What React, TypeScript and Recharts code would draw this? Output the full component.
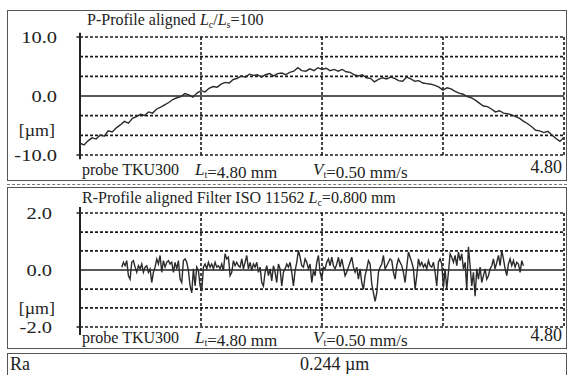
import { CartesianGrid, Line, LineChart, ReferenceLine, XAxis, YAxis } from 'recharts';

const FONT = 'Liberation Serif, Times New Roman, serif';
const INK = '#222';
const FRAME = '#555';

// P-profile, sampled every 0.04 mm from 0 to 4.80 mm, values in µm
const P_STEP = 0.04;
const pProfile = [
  -8.0, -8.3, -7.6, -7.1, -7.3, -6.6, -6.8, -5.9, -6.1, -5.4,
  -4.9, -4.3, -4.6, -3.8, -3.5, -3.1, -3.3, -2.7, -2.9, -2.2,
  -1.9, -1.5, -1.1, -0.6, -0.3, -0.1, 0.4, 0.2, -0.2, 0.5,
  0.9, 0.7, 1.3, 1.6, 1.5, 2.0, 2.3, 2.2, 2.8, 3.0,
  3.4, 3.2, 3.7, 3.5, 3.6, 3.2, 3.6, 3.8, 3.4, 3.8,
  3.9, 3.6, 4.0, 4.2, 4.8, 4.3, 4.2, 4.6, 4.3, 4.8,
  4.5, 4.7, 4.3, 4.5, 4.2, 4.5, 4.1, 4.0, 3.6, 3.4,
  3.6, 3.1, 3.0, 2.4, 2.8, 3.1, 2.9, 3.2, 3.0, 2.6,
  2.5, 3.2, 2.9, 2.5, 2.6, 2.2, 2.1, 2.0, 1.8, 1.5,
  1.0, 1.4, 1.2, 0.8, 0.5, 0.3, -0.1, -0.3, -0.7, -1.2,
  -1.7, -1.8, -2.2, -2.7, -2.5, -2.9, -3.0, -3.2, -3.5, -3.8,
  -4.3, -4.7, -5.2, -5.8, -5.9, -6.2, -6.0, -6.6, -7.2, -7.7,
  -7.0,
];

// R-profile, sampled every ~0.0165 mm starting at 0.414 mm, values in µm
const R_START = 0.414;
const R_STEP = 0.01653;
const rProfile = [
  0.10, 0.27, 0.15, 0.33, -0.20, -0.32, 0.27, 0.33, 0.10, -0.08,
  0.15, 0.04, 0.21, -0.08, 0.10, 0.15, -0.08, 0.04, -0.44, -0.08,
  0.10, 0.39, 0.21, 0.51, -0.08, 0.33, 0.10, 0.27, 0.33, 0.21,
  0.27, -0.08, 0.27, 0.04, 0.33, -0.32, -0.44, 0.33, 0.39, 0.27,
  -0.02, -0.56, -0.80, 0.04, -0.56, 0.10, -0.02, -0.56, -0.74, 0.10,
  0.21, 0.04, 0.27, 0.10, 0.21, 0.04, 0.27, 0.10, 0.15, 0.04,
  0.21, -0.02, 0.57, 0.39, 0.45, -0.20, -0.08, 0.33, 0.15, 0.27,
  0.15, 0.10, 0.39, 0.04, 0.27,
  0.51, 0.04, 0.27, -0.02, 0.21, 0.10, 0.27, -0.08, 0.10, -0.44,
  -0.56, -0.08, 0.15, -0.20, 0.04, -0.38, 0.15, -0.08, -0.44, 0.21,
  0.04, -0.56, -0.08, 0.04, 0.21, 0.10, 0.27, -0.08, -0.56, -0.02,
  0.27, 0.69, 0.45, 0.15, 0.10, 0.39, 0.27, 0.04, 0.21, -0.44,
  -0.02, -0.20, 0.27, 0.51, -0.08, -0.32, 0.10, 0.04, 0.27, 0.39,
  0.15, 0.45, 0.15, 0.04, 0.21, 0.45, 0.10, 0.39, 0.10, -0.20,
  -0.08, 0.10, 0.27, 0.45, 0.10, -0.08, 0.10, -0.32, 0.04, -0.44,
  -0.68, -0.20, 0.04, 0.33, 0.21, -0.50, -0.80, -1.10, -0.80, -0.08,
  0.10, 0.21, 0.51,
  0.04, 0.15, 0.27, 0.39, 0.33, -0.08, -0.32, 0.15, 0.39, 0.27,
  0.15, -0.08, -0.44, 0.10, 0.63, 0.45, 0.27, 0.04, -0.68, -0.20,
  0.39, 0.15, 0.27, 0.10, 0.21, 0.04, 0.33, 0.15, 0.10, 0.27,
  -0.08, -0.56, 0.27, 0.39, 0.21, -0.62, 0.04, -0.68, -0.08, 0.57,
  0.45, 0.27, 0.51, 0.15, 0.63, 0.33, 0.57, 0.04, 0.27, -0.68,
  0.81, 0.15, -0.56, -0.08, -0.92, 0.04, -0.32, 0.10, -0.44, -0.20,
  0.04, -0.32, -0.20, 0.04, 0.15, 0.39, 0.04, 0.27, 0.51, 0.15,
  0.69, 0.39, 0.04, -0.20, 0.21, 0.39, 0.15, 0.33, 0.10, 0.27,
  0.21, -0.08, 0.33, 0.15,
];

const xGrid = [1.2, 2.4, 3.6, 4.8];
const pGridY = [-10, -6.67, -3.33, 3.33, 6.67, 10];
const rGridY = [-2, -1.33, -0.67, 0.67, 1.33, 2];
const pTicks = [10, 0, -10];
const rTicks = [2, 0, -2];

const pData = pProfile.map((v, i) => ({ x: i * P_STEP, v }));
const rData = rProfile.map((v, i) => ({ x: R_START + i * R_STEP, v }));

function StretchTick(props: any) {
  const { x, y, payload } = props;
  return (
    <text
      transform={`translate(${x},${y}) scale(1.28,1)`}
      textAnchor="end"
      dy="0.36em"
      fontSize={16}
      style={{ fontFamily: FONT }}
      fill={INK}
    >
      {Number(payload.value).toFixed(1)}
    </text>
  );
}

interface ChartProps {
  data: { x: number; v: number }[];
  top: number;
  height: number;
  margin: { top: number; right: number; bottom: number; left: number };
  yDomain: [number, number];
  yTicks: number[];
  gridY: number[];
  tickGap: number;
  axisLo: number;
  axisHi: number;
}

function ProfileChart({ data, top, height, margin, yDomain, yTicks, gridY, tickGap, axisLo, axisHi }: ChartProps) {
  const [lo, hi] = yDomain;
  return (
    <div style={{ position: 'absolute', left: 0, top, width: 569, height }}>
      <LineChart width={569} height={height} data={data} margin={margin}>
        <CartesianGrid
          horizontalValues={gridY}
          verticalValues={xGrid}
          stroke="#1a1a1a"
          strokeDasharray="3 2"
          strokeWidth={1.6}
        />
        <XAxis type="number" dataKey="x" domain={[0, 4.8]} hide allowDataOverflow />
        <YAxis
          type="number"
          domain={yDomain}
          ticks={yTicks}
          interval={0}
          width={79}
          axisLine={false}
          tickLine={false}
          tickSize={0}
          tickMargin={tickGap}
          tick={<StretchTick />}
          allowDataOverflow
        />
        <ReferenceLine y={0} stroke={INK} strokeWidth={1.5} />
        <ReferenceLine
          segment={[{ x: 0, y: axisLo }, { x: 0, y: axisHi }]}
          ifOverflow="visible"
          stroke={INK}
          strokeWidth={2}
        />
        <ReferenceLine
          segment={[{ x: -0.035, y: hi }, { x: 0, y: hi }]}
          ifOverflow="visible"
          stroke={INK}
          strokeWidth={1.5}
        />
        <ReferenceLine
          segment={[{ x: -0.035, y: lo }, { x: 0, y: lo }]}
          ifOverflow="visible"
          stroke={INK}
          strokeWidth={1.5}
        />
        <Line
          dataKey="v"
          type="linear"
          dot={false}
          stroke="#2b2b2b"
          strokeWidth={1.4}
          isAnimationActive={false}
        />
      </LineChart>
    </div>
  );
}

function Sub({ main, sub }: { main: string; sub: string }) {
  return (
    <>
      <tspan fontStyle="italic">{main}</tspan>
      <tspan fontSize={10} dy={3}>{sub}</tspan>
      <tspan dy={-3}>{''}</tspan>
    </>
  );
}

function InfoRow({ y, endY }: { y: number; endY: number }) {
  return (
    <>
      <text x={82} y={y} fontSize={16}>probe TKU300</text>
      <text x={195} y={y} fontSize={17}>
        <Sub main="L" sub="t" />
        {'=4.80 mm'}
      </text>
      <text x={313} y={y} fontSize={17}>
        <Sub main="V" sub="t" />
        {'=0.50 mm/s'}
      </text>
      <text x={562} y={endY} fontSize={18} textAnchor="end">4.80</text>
    </>
  );
}

function Box({ top, height }: { top: number; height: number }) {
  return (
    <div
      style={{
        position: 'absolute',
        left: 7,
        top,
        width: 560,
        height,
        border: `1.5px solid ${FRAME}`,
        boxSizing: 'border-box',
      }}
    />
  );
}

export default function App() {
  return (
    <div
      style={{
        position: 'absolute',
        left: 0,
        top: 0,
        width: 569,
        height: 375,
        overflow: 'hidden',
        background: '#fff',
        fontFamily: FONT,
      }}
    >
      <Box top={10} height={171} />
      <div
        style={{
          position: 'absolute',
          left: 7,
          top: 184,
          width: 560,
          borderTop: '1px dashed #777',
        }}
      />
      <Box top={187} height={162} />
      <Box top={353} height={40} />

      <ProfileChart
        data={pData}
        top={0}
        height={190}
        margin={{ top: 37, right: 5, bottom: 35, left: 1 }}
        yDomain={[-10, 10]}
        yTicks={pTicks}
        gridY={pGridY}
        tickGap={23}
        axisLo={-10.7}
        axisHi={10.7}
      />
      <ProfileChart
        data={rData}
        top={187}
        height={162}
        margin={{ top: 26, right: 5, bottom: 22, left: 1 }}
        yDomain={[-2, 2]}
        yTicks={rTicks}
        gridY={rGridY}
        tickGap={28}
        axisLo={-2.28}
        axisHi={2.21}
      />

      <svg
        width={569}
        height={375}
        style={{ position: 'absolute', left: 0, top: 0, pointerEvents: 'none', fontFamily: FONT }}
        fill={INK}
      >
        <text x={87} y={25} fontSize={16}>
          {'P-Profile aligned '}
          <tspan fontStyle="italic">L</tspan>
          <tspan fontSize={10} dy={3}>c</tspan>
          <tspan dy={-3}>/</tspan>
          <tspan fontStyle="italic">L</tspan>
          <tspan fontSize={10} dy={3}>s</tspan>
          <tspan dy={-3}>=100</tspan>
        </text>
        <text transform="translate(55,136) scale(1.12,1)" textAnchor="end" fontSize={16}>[µm]</text>
        <InfoRow y={175} endY={173} />

        <text x={82} y={203} fontSize={16}>
          {'R-Profile aligned Filter ISO 11562 '}
          <tspan fontStyle="italic">L</tspan>
          <tspan fontSize={10} dy={3}>c</tspan>
          <tspan dy={-3}>=0.800 mm</tspan>
        </text>
        <text transform="translate(55,314) scale(1.12,1)" textAnchor="end" fontSize={16}>[µm]</text>
        <InfoRow y={343} endY={341} />

        <text x={10} y={370} fontSize={18}>Ra</text>
        <text x={300} y={370} fontSize={18}>0.244 µm</text>
      </svg>
    </div>
  );
}
